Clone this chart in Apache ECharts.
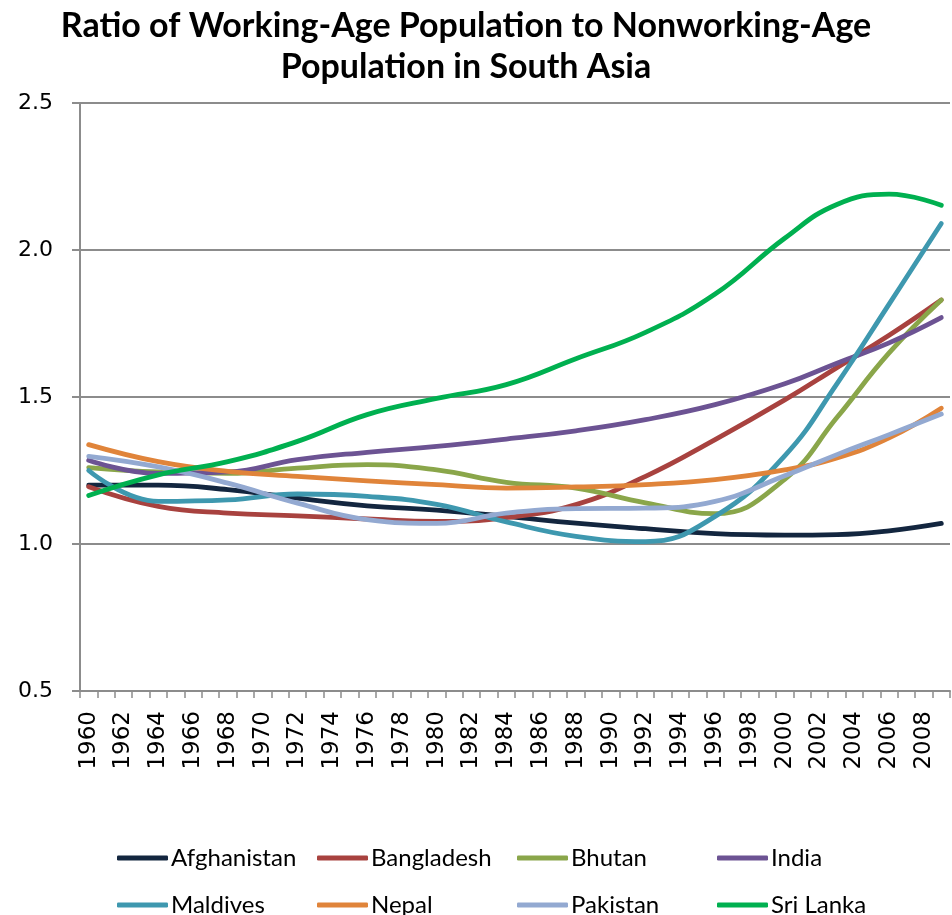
<!DOCTYPE html>
<html>
<head>
<meta charset="utf-8">
<script src="https://cdn.jsdelivr.net/npm/echarts@6/dist/echarts.min.js"></script>
<style>
  html, body { margin: 0; padding: 0; background: #fff; }
  #chart { width: 952px; height: 915px; }
</style>
</head>
<body>
<div id="chart"></div>
<script>
// Years on the category axis
const years = [];
for (let y = 1960; y <= 2009; y++) years.push(String(y));

// Years at which each ratio is given
const knotYears = [1960, 1964, 1968, 1972, 1976, 1980, 1984, 1988, 1992, 1996, 2000, 2003, 2006, 2009];

// Ratio of working-age to nonworking-age population
const afghanistan = [1.20, 1.20, 1.185, 1.156, 1.13, 1.115, 1.094, 1.071, 1.052, 1.035, 1.03, 1.032, 1.045, 1.07];
const bangladesh  = [1.195, 1.128, 1.105, 1.096, 1.085, 1.077, 1.09, 1.134, 1.23, 1.355, 1.49, 1.60, 1.71, 1.83];
const bhutan      = [1.26, 1.245, 1.24, 1.258, 1.27, 1.252, 1.21, 1.19, 1.14, 1.103, 1.22, 1.43, 1.65, 1.83];
const india       = [1.285, 1.24, 1.245, 1.287, 1.312, 1.332, 1.357, 1.385, 1.423, 1.474, 1.545, 1.615, 1.684, 1.77];
const maldives    = [1.25, 1.145, 1.15, 1.17, 1.162, 1.135, 1.075, 1.026, 1.008, 1.094, 1.30, 1.545, 1.816, 2.09];
const nepal       = [1.338, 1.28, 1.247, 1.23, 1.215, 1.202, 1.19, 1.194, 1.202, 1.219, 1.252, 1.293, 1.361, 1.462];
const pakistan    = [1.298, 1.262, 1.207, 1.139, 1.083, 1.07, 1.105, 1.12, 1.122, 1.145, 1.232, 1.304, 1.372, 1.442];
const sriLanka    = [1.165, 1.235, 1.28, 1.349, 1.44, 1.495, 1.542, 1.63, 1.72, 1.85, 2.04, 2.155, 2.19, 2.152];

const countries = ['Afghanistan', 'Bangladesh', 'Bhutan', 'India', 'Maldives', 'Nepal', 'Pakistan', 'Sri Lanka'];
const values = [afghanistan, bangladesh, bhutan, india, maldives, nepal, pakistan, sriLanka];
const colors = ['#13263F', '#A8423F', '#8AA64A', '#6C5393', '#3E98AF', '#E0843A', '#93A9D1', '#00B050'];

const series = countries.map((name, i) => ({
  name: name,
  type: 'line',
  smooth: 0.45,
  showSymbol: false,
  symbol: 'none',
  lineStyle: { width: 4.8, color: colors[i], cap: 'round', join: 'round' },
  itemStyle: { color: colors[i] },
  data: knotYears.map((y, k) => [String(y), values[i][k]])
}));

// Legend laid out as a 4 x 2 grid
const legends = countries.map((name, i) => ({
  data: [{ name: name, icon: 'roundRect' }],
  left: 112 + (i % 4) * 200,
  top: 841 + Math.floor(i / 4) * 47,
  itemWidth: 51,
  itemHeight: 5,
  itemGap: 5,
  selectedMode: false,
  textStyle: { fontFamily: 'Lato', fontSize: 24, color: '#000', padding: [0, 0, 0, -2] }
}));

const chart = echarts.init(document.getElementById('chart'), null, { renderer: 'canvas' });
chart.setOption({
  animation: false,
  backgroundColor: '#fff',
  title: {
    text: 'Ratio of Working-Age Population to Nonworking-Age\nPopulation in South Asia',
    left: 461,
    textAlign: 'center',
    top: 1,
    textStyle: { fontFamily: 'Lato', fontWeight: 'bold', fontSize: 34, lineHeight: 41, color: '#000' }
  },
  legend: legends,
  grid: { left: 80, right: 2, top: 103, bottom: 224, containLabel: false },
  xAxis: {
    type: 'category',
    data: years,
    boundaryGap: true,
    axisLine: { lineStyle: { color: '#8c8c8c', width: 2 } },
    axisTick: { show: true, interval: 0, length: 7, lineStyle: { color: '#8c8c8c', width: 1.5 } },
    axisLabel: { interval: 1, rotate: 90, margin: 20, fontFamily: 'DejaVu Sans', fontSize: 23, color: '#000' },
    splitLine: { show: false }
  },
  yAxis: {
    type: 'value',
    min: 0.5,
    max: 2.5,
    interval: 0.5,
    axisLine: { show: true, lineStyle: { color: '#8c8c8c', width: 2 } },
    axisTick: { show: true, length: 8, lineStyle: { color: '#8c8c8c', width: 2 } },
    axisLabel: { margin: 27, fontFamily: 'DejaVu Sans', fontSize: 22, color: '#000', formatter: v => v.toFixed(1) },
    splitLine: { show: true, lineStyle: { color: '#8c8c8c', width: 2 } }
  },
  series: series
});
</script>
</body>
</html>
